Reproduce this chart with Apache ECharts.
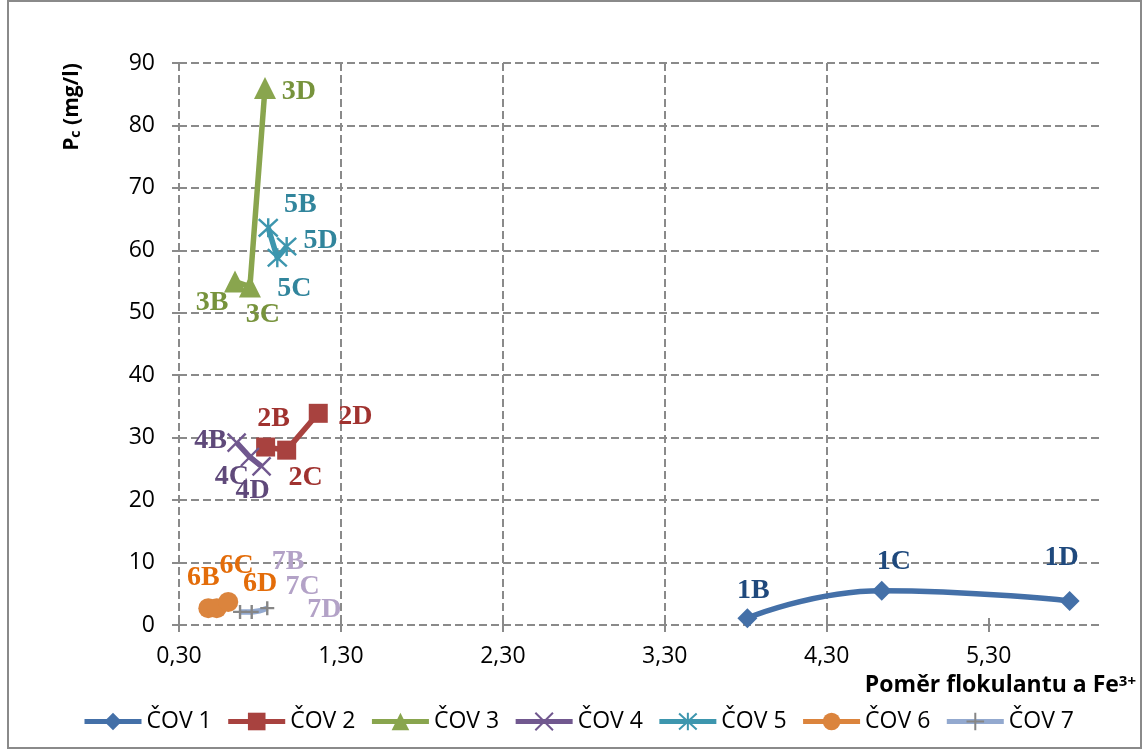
<!DOCTYPE html>
<html>
<head>
<meta charset="utf-8">
<script src="https://cdn.jsdelivr.net/npm/echarts@6/dist/echarts.min.js"></script>
<style>
  html, body { margin: 0; padding: 0; background: #ffffff; }
  #chart { width: 1143px; height: 751px; }
</style>
</head>
<body>
<div id="chart"></div>
<script>
// Flocculant-to-Fe3+ ratio (x) vs. residual phosphorus Pc in mg/l (y), per WWTP
const seriesNames = ['ČOV 1', 'ČOV 2', 'ČOV 3', 'ČOV 4', 'ČOV 5', 'ČOV 6', 'ČOV 7'];

const cov1X = [3.81, 4.64, 5.80];
const cov1Y = [1.1, 5.5, 3.85];
const cov1Labels = ['1B', '1C', '1D'];

const cov2X = [0.835, 0.965, 1.16];
const cov2Y = [28.5, 28.0, 33.9];
const cov2Labels = ['2B', '2C', '2D'];

const cov3X = [0.646, 0.738, 0.831];
const cov3Y = [55.0, 54.2, 86.0];
const cov3Labels = ['3B', '3C', '3D'];

const cov4X = [0.656, 0.738, 0.81];
const cov4Y = [29.2, 26.9, 25.4];
const cov4Labels = ['4B', '4C', '4D'];

const cov5X = [0.851, 0.907, 0.965];
const cov5Y = [63.6, 58.8, 60.6];
const cov5Labels = ['5B', '5C', '5D'];

const cov6X = [0.481, 0.533, 0.604];
const cov6Y = [2.7, 2.7, 3.7];
const cov6Labels = ['6B', '6C', '6D'];

const cov7X = [0.677, 0.749, 0.845];
const cov7Y = [2.1, 2.1, 2.7];
const cov7Labels = ['7B', '7C', '7D'];

const xTicks = [0.3, 1.3, 2.3, 3.3, 4.3, 5.3];
const xMin = 0.3, xMax = 6.0;
const yMin = 0, yMax = 90, yStep = 10;

// ---- presentation ----
const allX = [cov1X, cov2X, cov3X, cov4X, cov5X, cov6X, cov7X];
const allY = [cov1Y, cov2Y, cov3Y, cov4Y, cov5Y, cov6Y, cov7Y];
const allLabels = [cov1Labels, cov2Labels, cov3Labels, cov4Labels, cov5Labels, cov6Labels, cov7Labels];

// where each point label sits relative to its marker (px)
const labelShift = [
  [[6, -27], [12, -29], [-8, -43]],
  [[8, -28], [19, 28], [37, 3]],
  [[-23, 21], [13, 28], [34, 4]],
  [[-26, -2], [-18, 20], [-9, 24]],
  [[32, -23], [17, 31], [34, -6]],
  [[-5, -30], [20, -42], [32, -18]],
  [[48, -50], [51, -25], [57, 2]]
];

const lineColors   = ['#4470a8', '#a8423f', '#89a54e', '#71588f', '#3d96ae', '#db843d', '#93a9cf'];
const markerColors = ['#4470a8', '#a8423f', '#89a54e', '#71588f', '#3d96ae', '#db843d', '#868686'];
const labelColors  = ['#1f497d', '#a0322f', '#77933c', '#5f497a', '#31859c', '#e36c09', '#b3a2c7'];
const symbols = [
  'diamond', 'rect', 'triangle',
  'path://M0,0L20,20M0,20L20,0',
  'path://M0,0L20,20M0,20L20,0M10,-1L10,21',
  'circle',
  'path://M10,0L10,20M0,10L20,10'
];
const symbolSizes = [20, 19, 22, 18, 19, 20, 14];
const strokeOnly = [false, false, false, true, true, false, true];
const smoothFlags = [true, false, false, false, false, false, true];

const fmtComma = v => v.toFixed(2).replace('.', ',');
const gridColor = '#8a8a8a';

const series = seriesNames.map((name, i) => ({
  name,
  type: 'line',
  xAxisIndex: 0,
  yAxisIndex: 0,
  smooth: smoothFlags[i],
  symbol: symbols[i],
  symbolSize: symbolSizes[i],
  lineStyle: { color: lineColors[i], width: 5.5 },
  itemStyle: strokeOnly[i]
    ? { color: markerColors[i], borderColor: markerColors[i], borderWidth: 2.4 }
    : { color: markerColors[i], borderWidth: 0 },
  label: {
    show: true,
    position: 'inside',
    formatter: '{b}',
    color: labelColors[i],
    fontFamily: 'Liberation Serif',
    fontWeight: 'bold',
    fontSize: 28
  },
  emphasis: { disabled: true },
  data: allX[i].map((x, k) => ({
    value: [x, allY[i][k]],
    name: allLabels[i][k],
    label: { offset: labelShift[i][k] }
  }))
}));

const tickStyle = { color: gridColor, width: 2 };

const option = {
  animation: false,
  backgroundColor: '#ffffff',
  grid: { left: 179, right: 41, top: 63, bottom: 126 },
  legend: {
    data: seriesNames,
    left: 77,
    top: 705,
    itemWidth: 57,
    itemHeight: 22,
    itemGap: 14,
    lineStyle: { width: 5 },
    textStyle: { fontFamily: 'Open Sans', fontSize: 23, color: '#000000' }
  },
  xAxis: [
    {
      type: 'value',
      min: xMin,
      max: xMax,
      position: 'bottom',
      axisLine: { show: false, onZero: false },
      axisTick: { show: true, length: 7, lineStyle: tickStyle, customValues: xTicks },
      axisLabel: {
        customValues: xTicks,
        formatter: fmtComma,
        margin: 20,
        fontFamily: 'Open Sans',
        fontSize: 23,
        color: '#000000'
      },
      splitLine: {
        show: true,
        showMinLine: true,
        showMaxLine: false,
        lineStyle: { color: gridColor, width: 2, type: [8, 4] }
      }
    },
    {
      type: 'value',
      min: xMin,
      max: xMax,
      position: 'bottom',
      axisLine: { show: false, onZero: false },
      axisTick: { show: true, inside: true, length: 7, lineStyle: tickStyle, customValues: xTicks },
      axisLabel: { show: false, customValues: xTicks },
      splitLine: { show: false }
    }
  ],
  yAxis: [
    {
      type: 'value',
      min: yMin,
      max: yMax,
      interval: yStep,
      position: 'left',
      axisLine: { show: false, onZero: false },
      axisTick: { show: true, length: 7, lineStyle: tickStyle },
      axisLabel: { margin: 24, fontFamily: 'Open Sans', fontSize: 23, color: '#000000' },
      splitLine: {
        show: true,
        showMinLine: true,
        showMaxLine: true,
        lineStyle: { color: gridColor, width: 2, type: [8, 4] }
      }
    },
    {
      type: 'value',
      min: yMin,
      max: yMax,
      interval: yStep,
      position: 'left',
      axisLine: { show: false, onZero: false },
      axisTick: { show: true, inside: true, length: 7, lineStyle: tickStyle },
      axisLabel: { show: false },
      splitLine: { show: false }
    }
  ],
  graphic: [
    {
      type: 'rect',
      silent: true,
      shape: { x: 8, y: 1, width: 1133, height: 747 },
      style: { fill: 'none', stroke: '#8a8a8a', lineWidth: 2 }
    },
    {
      type: 'text',
      silent: true,
      x: 69,
      y: 107,
      rotation: Math.PI / 2,
      style: {
        text: '{a|P}{b|c}{a| (mg/l)}',
        align: 'center',
        verticalAlign: 'middle',
        rich: {
          a: { fontFamily: 'Open Sans', fontWeight: 'bold', fontSize: 21, lineHeight: 28, fill: '#000', verticalAlign: 'bottom' },
          b: { fontFamily: 'Open Sans', fontWeight: 'bold', fontSize: 14, lineHeight: 16, fill: '#000', verticalAlign: 'bottom' }
        }
      }
    },
    {
      type: 'text',
      silent: true,
      x: 1136,
      y: 689,
      style: {
        text: '{a|Poměr flokulantu a Fe}{s|3+}',
        align: 'right',
        verticalAlign: 'middle',
        rich: {
          a: { fontFamily: 'Open Sans', fontWeight: 'bold', fontSize: 23, lineHeight: 30, fill: '#000', verticalAlign: 'top' },
          s: { fontFamily: 'Open Sans', fontWeight: 'bold', fontSize: 15, lineHeight: 17, fill: '#000', verticalAlign: 'top' }
        }
      }
    }
  ],
  series
};

const chart = echarts.init(document.getElementById('chart'), null, { renderer: 'canvas' });
chart.setOption(option);
</script>
</body>
</html>
